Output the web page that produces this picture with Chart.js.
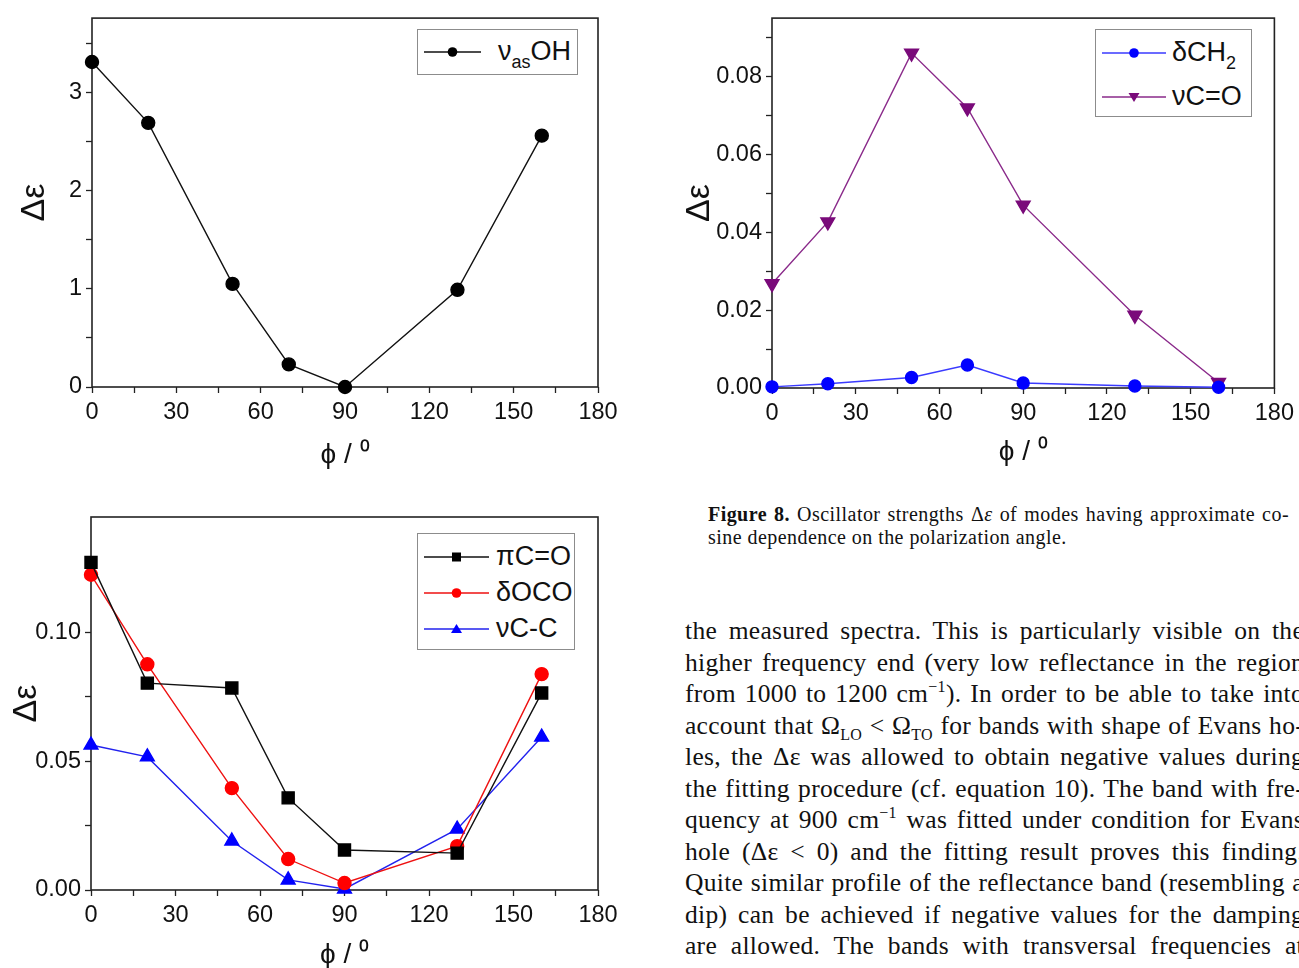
<!DOCTYPE html>
<html><head><meta charset="utf-8">
<script src="https://cdn.jsdelivr.net/npm/chart.js@4.4.0/dist/chart.umd.min.js"></script>
<style>
html,body{margin:0;padding:0;background:#fff;}
body{width:1299px;height:968px;overflow:hidden;position:relative;font-family:"Liberation Sans",Arial,sans-serif;color:#111;}
canvas{position:absolute;}
.leg{position:absolute;border:1px solid #8c8c8c;background:#fff;box-sizing:border-box;}
.leg svg{position:absolute;left:0;top:0;}
.lt{position:absolute;font-size:27px;line-height:27px;white-space:nowrap;color:#111;}
.lt sub{font-size:18px;vertical-align:-8px;line-height:0;}
.cap{position:absolute;left:708px;font-family:"Liberation Serif","Times New Roman",serif;font-size:20px;letter-spacing:0.45px;line-height:23px;white-space:nowrap;color:#111;}
.para{position:absolute;left:685px;top:615px;width:619px;font-family:"Liberation Serif","Times New Roman",serif;font-size:25.5px;letter-spacing:0.3px;color:#111;}
.para div{height:31.5px;line-height:31.5px;text-align:justify;text-align-last:justify;white-space:nowrap;}
.para sub{font-size:16px;vertical-align:-6px;line-height:0;}
.para sup{font-size:16px;vertical-align:10px;line-height:0;}
</style>
</head><body>
<canvas id="c1" width="640" height="480" style="left:0;top:0"></canvas>
<canvas id="c2" width="639" height="480" style="left:660px;top:0"></canvas>
<canvas id="c3" width="640" height="500" style="left:0;top:490px"></canvas>

<div id="legends"></div>

<div class="cap" style="top:503px;width:581px;text-align:justify;text-align-last:justify;"><b>Figure 8.</b> Oscillator strengths Δ<i>ε</i> of modes having approximate co-</div>
<div class="cap" style="top:526px;">sine dependence on the polarization angle.</div>

<div class="para">
<div>the measured spectra. This is particularly visible on the</div>
<div>higher frequency end (very low reflectance in the region</div>
<div>from 1000 to 1200 cm<sup>−1</sup>). In order to be able to take into</div>
<div>account that Ω<sub>LO</sub> &lt; Ω<sub>TO</sub> for bands with shape of Evans ho-</div>
<div>les, the Δε was allowed to obtain negative values during</div>
<div>the fitting procedure (cf. equation 10). The band with fre-</div>
<div>quency at 900 cm<sup>−1</sup> was fitted under condition for Evans</div>
<div>hole (Δε &lt; 0) and the fitting result proves this finding.</div>
<div>Quite similar profile of the reflectance band (resembling a</div>
<div>dip) can be achieved if negative values for the damping</div>
<div>are allowed. The bands with transversal frequencies at</div>
</div>

<script>
// ---------- data ----------
const phi = [0, 20, 50, 70, 90, 130, 160];
const nuAsOH = [3.31, 2.69, 1.05, 0.23, 0.0, 0.99, 2.56];
const deltaCH2 = [0.0003, 0.0011, 0.0027, 0.0059, 0.0013, 0.0005, 0.0002];
const nuCO = [0.0268, 0.0427, 0.0861, 0.0720, 0.0470, 0.0187, 0.0014];
const piCO = [0.127, 0.0802, 0.0783, 0.0357, 0.0155, 0.0143, 0.0764];
const deltaOCO = [0.1222, 0.0875, 0.0395, 0.0120, 0.0027, 0.0170, 0.0837];
const nuCC = [0.0562, 0.0516, 0.0190, 0.0039, 0.0004, 0.0236, 0.0593];

const xTicks = [0, 15, 30, 45, 60, 75, 90, 105, 120, 135, 150, 165, 180];
const xTickLabels = ['0', '', '30', '', '60', '', '90', '', '120', '', '150', '', '180'];
const y1Ticks = [0, 0.5, 1, 1.5, 2, 2.5, 3, 3.5];
const y1TickLabels = ['0', '', '1', '', '2', '', '3', ''];
const y2Ticks = [0, 0.01, 0.02, 0.03, 0.04, 0.05, 0.06, 0.07, 0.08, 0.09];
const y2TickLabels = ['0.00', '', '0.02', '', '0.04', '', '0.06', '', '0.08', ''];
const y3Ticks = [0, 0.025, 0.05, 0.075, 0.1, 0.125];
const y3TickLabels = ['0.00', '', '0.05', '', '0.10', ''];

const FONT = '"Liberation Sans", Arial, sans-serif';
const xTitle = 'ϕ / ⁰';
const yTitle = 'Δε';

// ---------- helpers ----------
function axis(isX, ticks, labels, min, max, fixed, title, titleSize, titlePad) {
  return {
    type: 'linear', min: min, max: max,
    afterBuildTicks: s => { s.ticks = ticks.map(v => ({ value: v })); },
    afterFit: s => { if (isX) s.height = fixed; else s.width = fixed; },
    ticks: { autoSkip: false, maxRotation: 0, minRotation: 0, color: '#111', padding: isX ? 5 : 4,
      font: { family: FONT, size: 23.5 }, callback: (v, i) => labels[i] },
    grid: { display: true, drawOnChartArea: false, drawTicks: true, tickLength: 6, tickColor: '#222', tickWidth: 1.3 },
    border: { display: false },
    title: { display: true, text: title, color: '#111', font: { family: FONT, size: titleSize }, padding: titlePad }
  };
}
const framePlugin = {
  id: 'frame',
  beforeDatasetsDraw(c) {
    const { ctx, chartArea: a } = c;
    ctx.save(); ctx.strokeStyle = '#222'; ctx.lineWidth = 1.6;
    ctx.strokeRect(a.left, a.top, a.right - a.left, a.bottom - a.top);
    ctx.restore();
  }
};
function series(label, ys, color, lineColor, style, radius, rotation) {
  return { label: label, data: phi.map((x, i) => ({ x: x, y: ys[i] })), showLine: true, clip: false,
    borderColor: lineColor, backgroundColor: color, pointBorderColor: color, pointBackgroundColor: color,
    borderWidth: 1.4, pointRadius: radius, pointStyle: style, pointRotation: rotation || 0, tension: 0 };
}
function make(id, datasets, pad, xAxis, yAxis) {
  return new Chart(document.getElementById(id), {
    type: 'scatter',
    data: { datasets: datasets },
    options: { responsive: false, animation: false, events: [],
      layout: { padding: pad },
      plugins: { legend: { display: false }, tooltip: { enabled: false } },
      scales: { x: xAxis, y: yAxis } },
    plugins: [framePlugin]
  });
}

// ---------- charts ----------
const ds1 = [series('ν<sub>as</sub>OH', nuAsOH, '#000', '#111', 'circle', 6.5)];
make('c1', ds1, { top: 15, right: 42, left: 0, bottom: 0 },
  axis(true, xTicks, xTickLabels, 0, 180, 93, xTitle, 28, { top: 0, bottom: 8 }),
  axis(false, y1Ticks, y1TickLabels, 0, 3.757, 92, yTitle, 34, { top: 14, bottom: 0 }));

const ds2 = [series('δCH<sub>2</sub>', deltaCH2, '#0000ff', '#3a3aff', 'circle', 6),
             series('νC=O', nuCO, '#7a0a7a', '#8a2a8a', 'triangle', 8, 180)];
make('c2', ds2, { top: 17, right: 22, left: 0, bottom: 0 },
  axis(true, xTicks, xTickLabels, 0, 180, 92, xTitle, 28, { top: 0, bottom: 11 }),
  axis(false, y2Ticks, y2TickLabels, 0, 0.0951, 112, yTitle, 34, { top: 19, bottom: 0 }));

const ds3 = [series('πC=O', piCO, '#000', '#111', 'rect', 8.5),
             series('δOCO', deltaOCO, '#ff0000', '#ee1111', 'circle', 6.5),
             series('νC-C', nuCC, '#0000ff', '#2222ee', 'triangle', 8)];
make('c3', ds3, { top: 27, right: 42, left: 0, bottom: 0 },
  axis(true, xTicks, xTickLabels, 0, 180, 100, xTitle, 28, { top: 0, bottom: 18 }),
  axis(false, y3Ticks, y3TickLabels, 0, 0.1446, 91, yTitle, 34, { top: 6, bottom: 0 }));

// ---------- legends (HTML, built from dataset names/colours) ----------
function marker(style, color, cx, cy) {
  if (style === 'circle') return `<circle cx="${cx}" cy="${cy}" r="4.8" fill="${color}"/>`;
  if (style === 'rect') return `<rect x="${cx-4.5}" y="${cy-4.5}" width="9" height="9" fill="${color}"/>`;
  if (style === 'triangle') return `<polygon points="${cx-5.5},${cy-4} ${cx+5.5},${cy-4} ${cx},${cy+5}" fill="${color}"/>`;
  return `<polygon points="${cx-5.5},${cy+4} ${cx+5.5},${cy+4} ${cx},${cy-5}" fill="${color}"/>`;
}
function legend(box, datasets, rowsY, lineX0, lineX1, textX, fontSize) {
  const el = document.createElement('div');
  el.className = 'leg';
  el.style.left = box[0] + 'px'; el.style.top = box[1] + 'px';
  el.style.width = box[2] + 'px'; el.style.height = box[3] + 'px';
  let svg = `<svg width="${box[2]}" height="${box[3]}">`;
  let txt = '';
  datasets.forEach((d, i) => {
    const y = rowsY[i];
    const st = d.pointStyle === 'triangle' && d.pointRotation === 180 ? 'triangle' : (d.pointStyle === 'triangle' ? 'up' : d.pointStyle);
    svg += `<line x1="${lineX0}" y1="${y}" x2="${lineX1}" y2="${y}" stroke="${d.borderColor}" stroke-width="1.3"/>`;
    svg += marker(st, d.backgroundColor, (lineX0 + lineX1) / 2, y);
    txt += `<div class="lt" style="left:${textX}px;top:${y - 14}px;font-size:${fontSize}px">${d.label}</div>`;
  });
  svg += '</svg>';
  el.innerHTML = svg + txt;
  document.getElementById('legends').appendChild(el);
}
legend([417, 29, 161, 46], ds1, [22], 6, 63, 80, 27);
legend([1095, 29, 157, 88], ds2, [23, 67], 6, 70, 76, 27);
legend([417, 533, 158, 117], ds3, [23, 59, 95], 6, 71, 78, 27);
</script>
</body></html>
